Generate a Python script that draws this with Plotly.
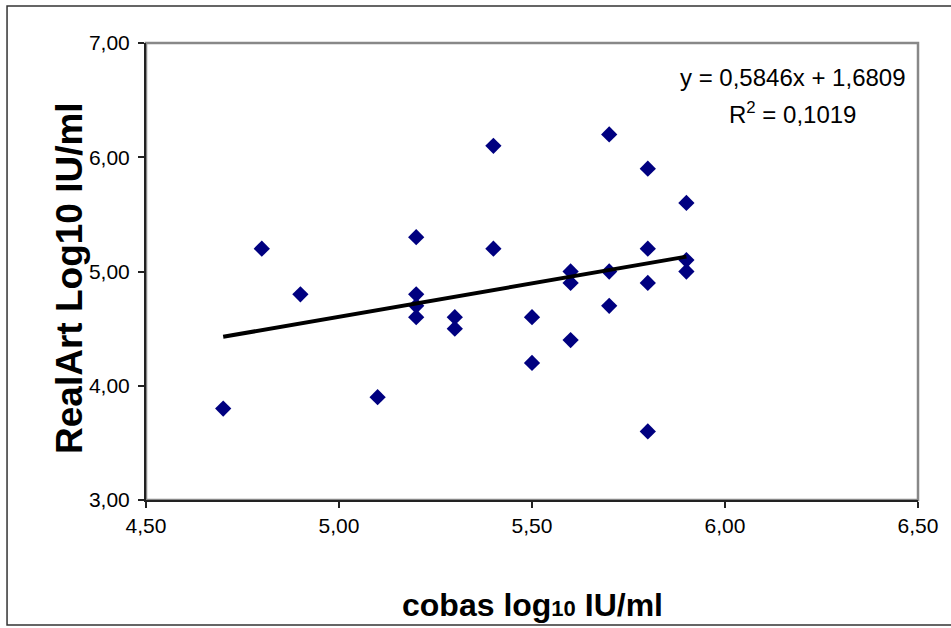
import plotly.graph_objects as go

# Data
cobas = [4.7, 4.8, 4.9, 5.1, 5.2, 5.2, 5.2, 5.2, 5.3, 5.3, 5.4, 5.4, 5.5, 5.5,
         5.6, 5.6, 5.6, 5.7, 5.7, 5.7, 5.8, 5.8, 5.8, 5.8, 5.9, 5.9, 5.9]
realart = [3.8, 5.2, 4.8, 3.9, 5.3, 4.8, 4.7, 4.6, 4.6, 4.5, 6.1, 5.2, 4.6, 4.2,
           5.0, 4.9, 4.4, 6.2, 5.0, 4.7, 5.9, 5.2, 4.9, 3.6, 5.6, 5.1, 5.0]

slope = 0.5846
intercept = 1.6809
r2_text = "0,1019"
trend_x = [min(cobas), max(cobas)]
trend_y = [slope * v + intercept for v in trend_x]

x_ticks = [4.5, 5.0, 5.5, 6.0, 6.5]
y_ticks = [3, 4, 5, 6, 7]

FONT = "Liberation Sans, Arial, sans-serif"

fig = go.Figure()
fig.add_trace(go.Scatter(
    x=cobas, y=realart, mode="markers",
    marker=dict(symbol="diamond", size=12.5, color="#000080",
                line=dict(width=0)),
    showlegend=False, hoverinfo="x+y"))
fig.add_trace(go.Scatter(
    x=trend_x, y=trend_y, mode="lines",
    line=dict(color="black", width=4),
    showlegend=False, hoverinfo="skip"))

fig.update_layout(
    width=951, height=628,
    margin=dict(l=146, r=33, t=43, b=128),
    paper_bgcolor="white", plot_bgcolor="white",
    separators=",.",
    font=dict(family=FONT, color="black", size=21),
    xaxis=dict(range=[4.5, 6.5], tickvals=x_ticks, tickformat=".2f",
               showgrid=False, zeroline=False,
               showline=True, linecolor="#222222", linewidth=2,
               ticks="outside", ticklen=6, tickcolor="#222222", tickwidth=1.5,
               tickfont=dict(size=21)),
    yaxis=dict(range=[3, 7], tickvals=y_ticks, tickformat=".2f",
               showgrid=False, zeroline=False,
               showline=True, linecolor="#222222", linewidth=2,
               ticks="outside", ticklen=6, tickcolor="#222222", tickwidth=1.5,
               ticklabelstandoff=4,
               tickfont=dict(size=21)),
    shapes=[
        dict(type="rect", xref="paper", yref="paper", x0=0, y0=0, x1=1, y1=1,
             line=dict(color="#888888", width=2.5), layer="below"),
        dict(type="rect", xref="paper", yref="paper",
             x0=-0.18, y0=-0.2735, x1=1.06, y1=1.081,
             line=dict(color="#333333", width=1.5), layer="below"),
    ],
    annotations=[
        dict(text="y = 0,5846x + 1,6809", xref="paper", yref="paper",
             x=0.838, y=0.9256, showarrow=False, xanchor="center", yanchor="middle",
             font=dict(size=24)),
        dict(text="R<sup>2</sup> = " + r2_text, xref="paper", yref="paper",
             x=0.838, y=0.8468, showarrow=False, xanchor="center", yanchor="middle",
             font=dict(size=24)),
        dict(text="<b>cobas log<span style='font-size:22px'>10</span> IU/ml</b>",
             xref="paper", yref="paper", x=0.5, y=-0.2298, showarrow=False,
             xanchor="center", yanchor="middle", font=dict(size=32)),
        dict(text="<b>RealArt Log10 IU/ml</b>", xref="paper", yref="paper",
             x=-0.0984, y=0.486, showarrow=False, textangle=-90,
             xanchor="center", yanchor="middle", font=dict(size=37)),
    ],
)

fig.write_html("out.html",
               config={"displayModeBar": False},
               post_script="document.body.style.margin='0';document.body.style.overflow='hidden';")
